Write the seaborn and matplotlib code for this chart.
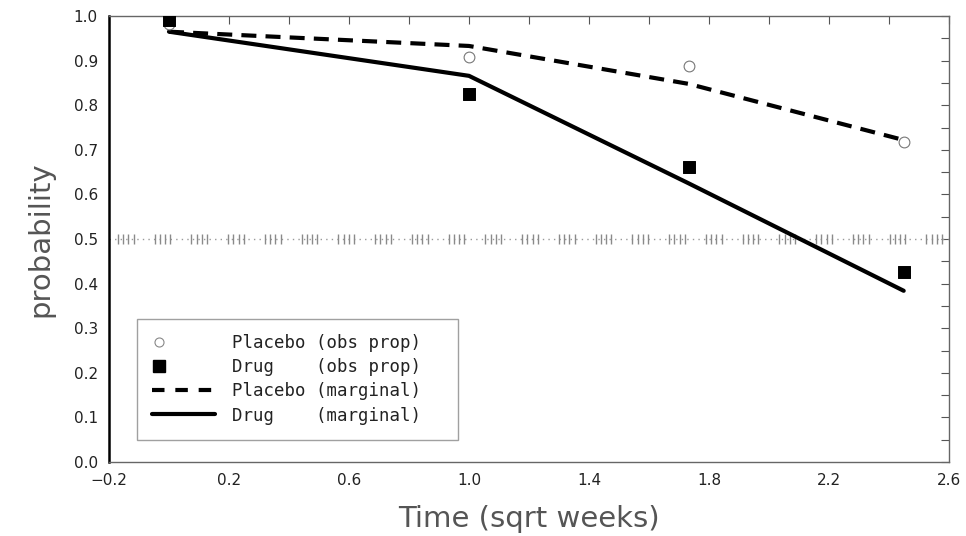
import numpy as np
import pandas as pd
import matplotlib
matplotlib.use("Agg")
import matplotlib.pyplot as plt
from matplotlib.lines import Line2D
from matplotlib.legend_handler import HandlerLine2D
import seaborn as sns

# ---- data ----
times = [0.0, 1.0, 1.732, 2.449]
placebo_obs = [0.982, 0.908, 0.888, 0.717]
drug_obs = [0.991, 0.825, 0.661, 0.426]
placebo_marg = [0.965, 0.933, 0.848, 0.722]
drug_marg = [0.965, 0.866, 0.625, 0.384]
x_ticks = [-0.2, 0.2, 0.6, 1.0, 1.4, 1.8, 2.2, 2.6]
y_ticks = [0.0, 0.1, 0.2, 0.3, 0.4, 0.5, 0.6, 0.7, 0.8, 0.9, 1.0]
legend_labels = ["Placebo (obs prop)", "Drug    (obs prop)",
                 "Placebo (marginal)", "Drug    (marginal)"]
ref_level = 0.5

obs = pd.DataFrame({
    "time": times * 2,
    "prob": placebo_obs + drug_obs,
    "group": ["Placebo"] * 4 + ["Drug"] * 4,
})
marg = pd.DataFrame({
    "time": times * 2,
    "prob": placebo_marg + drug_marg,
    "group": ["Placebo"] * 4 + ["Drug"] * 4,
})

sns.set_theme(style="white")
plt.rcParams["font.family"] = ["DejaVu Sans"]

fig = plt.figure(figsize=(9.66, 5.36), dpi=100)
ax = fig.add_axes([0.1128, 0.138, 0.8696, 0.832])

# reference line at 0.5 (decorative dotted line with tick clusters)
ax.axhline(ref_level, color="#999999", lw=1.0, ls=(0, (1, 3)), zorder=1)
k = np.arange(0, 160)
xs = -0.2 + 0.03 + k * 0.0175
xs = xs[(k % 7) < 4]
xs = xs[xs < 2.58]
ax.plot(xs, np.full_like(xs, ref_level), ls="none", marker="|", ms=7,
        mew=1.0, color="#8a8a8a", zorder=1)

# marginal lines
sns.lineplot(data=marg[marg.group == "Placebo"], x="time", y="prob", ax=ax,
             color="black", lw=3, legend=False, zorder=3)
ax.lines[-1].set_dashes([3.6, 2.2])
sns.lineplot(data=marg[marg.group == "Drug"], x="time", y="prob", ax=ax,
             color="black", lw=3, legend=False, zorder=3)

# observed proportions
sns.scatterplot(data=obs[obs.group == "Placebo"], x="time", y="prob", ax=ax,
                marker="o", s=60, facecolor="white", edgecolor="#777777",
                linewidth=0.8, legend=False, zorder=4)
sns.scatterplot(data=obs[obs.group == "Drug"], x="time", y="prob", ax=ax,
                marker="s", s=75, color="black", edgecolor="black",
                legend=False, zorder=5)

ax.set_xlim(-0.2, 2.6)
ax.set_ylim(0.0, 1.0)
ax.set_xticks(x_ticks)
ax.set_xticklabels([f"{v:.1f}".replace("-", "\u2212") for v in x_ticks])
ax.set_xticks(np.arange(0.0, 2.6, 0.4), minor=True)
ax.set_yticks(y_ticks)
ax.set_yticklabels([f"{v:.1f}" for v in y_ticks])
ax.set_yticks(np.arange(0.05, 1.0, 0.1), minor=True)
ax.tick_params(which="both", direction="in", top=True, right=True,
               length=6, width=0.8, colors="#555555", labelsize=11,
               labelcolor="#222222", pad=8)

for side in ["top", "right", "bottom"]:
    ax.spines[side].set_color("#666666")
    ax.spines[side].set_linewidth(1.0)
ax.spines["left"].set_color("black")
ax.spines["left"].set_linewidth(1.8)

ax.set_xlabel("Time (sqrt weeks)", fontsize=21, color="#555555", labelpad=12)
ax.set_ylabel("probability", fontsize=21, color="#555555", labelpad=14)


class LeftMarkerHandler(HandlerLine2D):
    def get_xdata(self, legend, xdescent, ydescent, width, height, fontsize):
        xdata = np.array([-xdescent, -xdescent + 0.2 * width], float)
        xm = np.array([-xdescent + 0.1 * width])
        return xdata, xm


h_circ = Line2D([], [], ls="none", marker="o", ms=6.5, mfc="white",
                mec="#888888", mew=0.8)
h_sq = Line2D([], [], ls="none", marker="s", ms=8, mfc="black", mec="black")
handles = [
    h_circ,
    h_sq,
    Line2D([], [], color="black", lw=3, dashes=[3, 2.6]),
    Line2D([], [], color="black", lw=3),
]
leg = ax.legend(handles, [lab + "  " for lab in legend_labels], loc="lower left",
                bbox_to_anchor=(0.033, 0.049), borderaxespad=0,
                prop={"family": "DejaVu Sans Mono", "size": 12.5},
                handlelength=3.6, handletextpad=1.0, labelspacing=0.35,
                borderpad=0.9, frameon=True, fancybox=False,
                handler_map={h_circ: LeftMarkerHandler(numpoints=1),
                             h_sq: LeftMarkerHandler(numpoints=1)})
leg.get_frame().set_edgecolor("#888888")
leg.get_frame().set_linewidth(1.0)
for t in leg.get_texts():
    t.set_color("#222222")

fig.savefig("out.png", dpi=100)
